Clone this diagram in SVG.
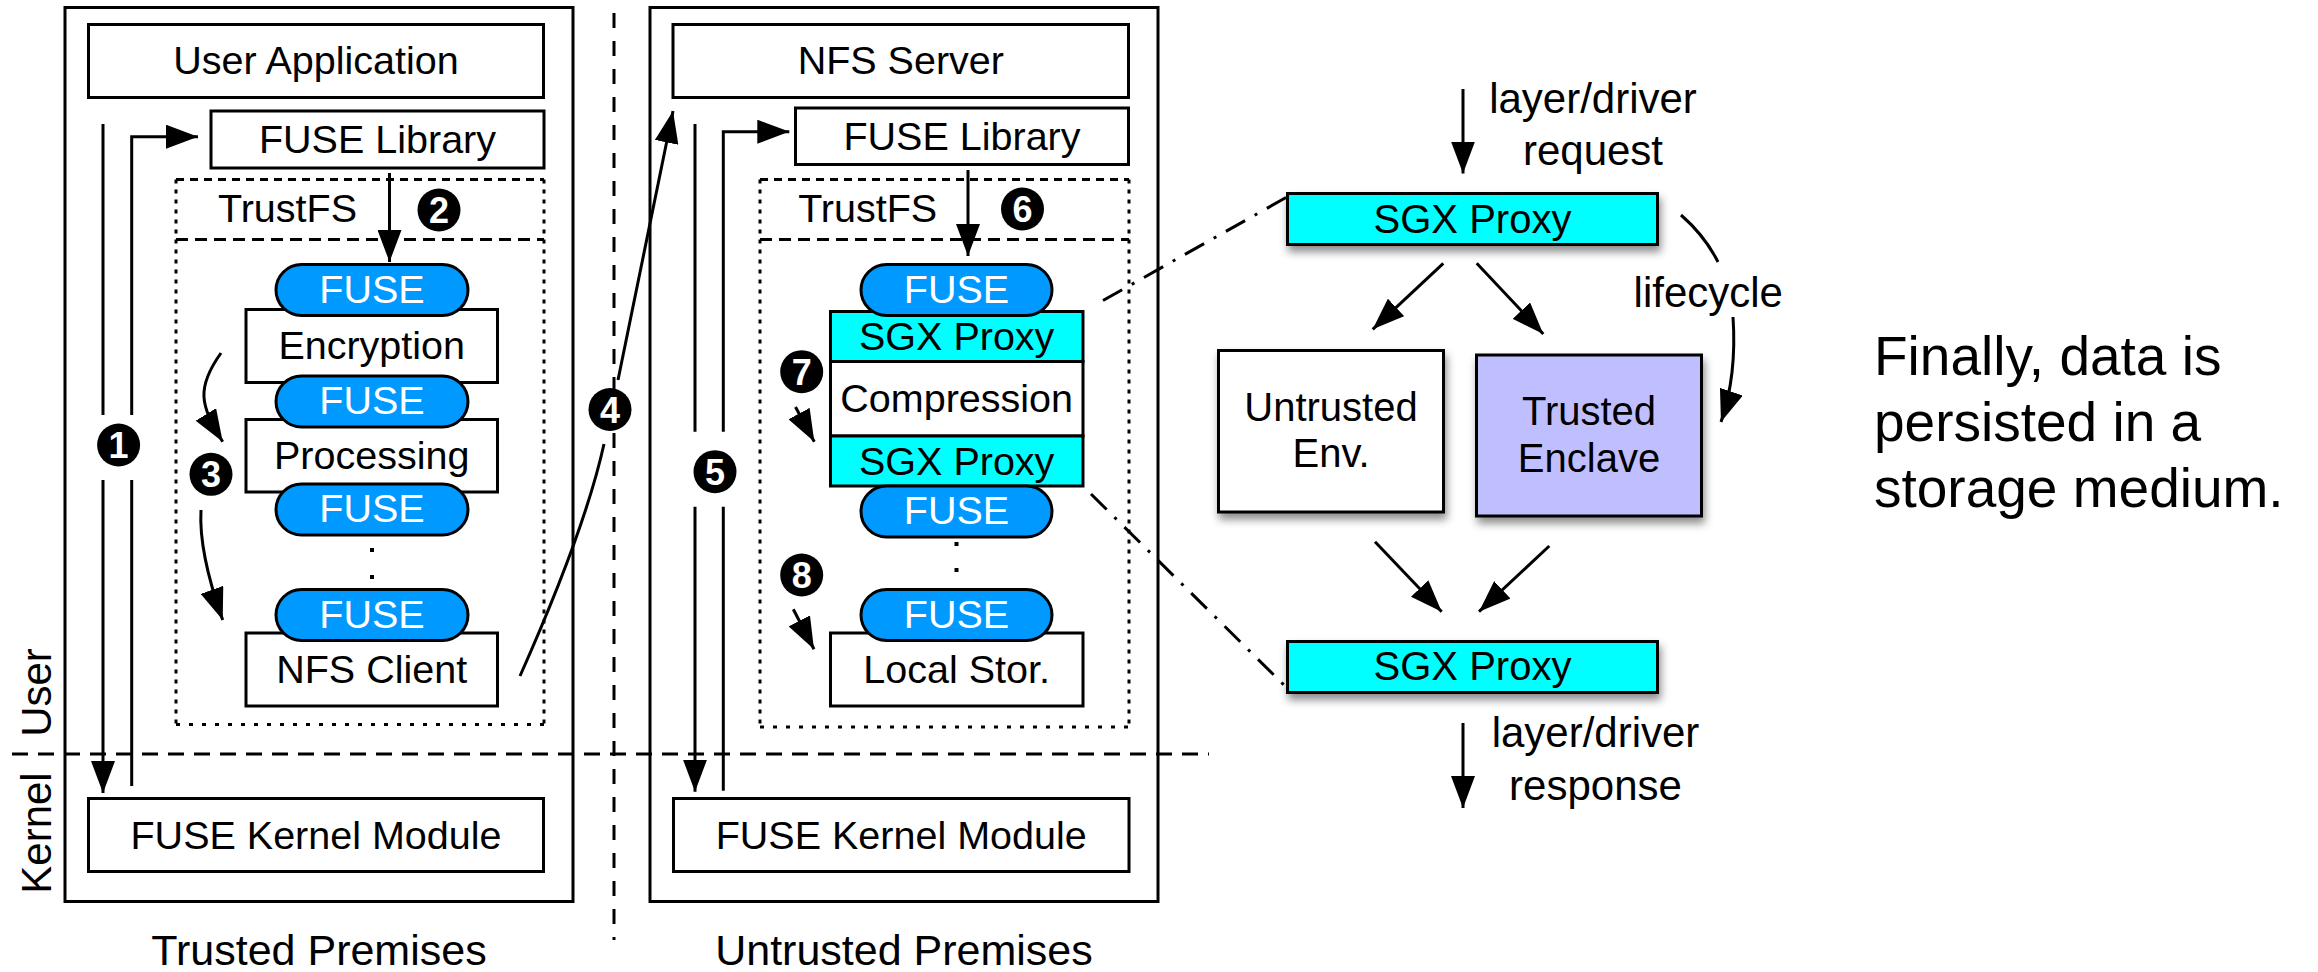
<svg xmlns="http://www.w3.org/2000/svg" width="2318" height="972" viewBox="0 0 2318 972">
<style>
.box{fill:#fff;stroke:#000;stroke-width:3}
.pill{fill:#0099ff;stroke:#000;stroke-width:3}
.sgx{fill:#00ffff;stroke:#000;stroke-width:3}
.enc{fill:#bfbfff;stroke:#000;stroke-width:3}
.t{font-family:"Liberation Sans",Arial,Helvetica,sans-serif;font-size:39.5px;text-anchor:middle;fill:#000}
.w{fill:#fff}
.lbl{font-size:42px}
.big{font-size:43px}
.fin{font-family:"Liberation Sans",Arial,Helvetica,sans-serif;font-size:55px;fill:#000}
.ln{fill:none;stroke:#000;stroke-width:3}
.arr{fill:none;stroke:#000;stroke-width:3;marker-end:url(#ah)}
.dd{fill:none;stroke:#000;stroke-width:3;stroke-dasharray:22 11 3 11}
.num circle{fill:#000}
.num text{font-family:"Liberation Sans",Arial,sans-serif;font-weight:bold;font-size:36px;fill:#fff;text-anchor:middle}
.dash{fill:none;stroke:#000;stroke-width:3}
</style>
<defs>
<marker id="ah" viewBox="0 0 32 24" refX="32" refY="12" markerWidth="32" markerHeight="24" markerUnits="userSpaceOnUse" orient="auto"><path d="M0,0 L32,12 L0,24 Z" fill="#000"/></marker>
<filter id="sh" x="-10%" y="-20%" width="130%" height="170%"><feDropShadow dx="2" dy="6" stdDeviation="4" flood-color="#000" flood-opacity="0.45"/></filter>
</defs>
<rect width="2318" height="972" fill="#fff"/>

<!-- outer premises -->
<g id="trusted-premises">
<rect class="box" x="65" y="7.5" width="508" height="894"/>
<text class="t big" x="319" y="965">Trusted Premises</text>
</g>
<g id="untrusted-premises">
<rect class="box" x="650" y="7.5" width="508" height="894"/>
<text class="t big" x="904" y="965">Untrusted Premises</text>
</g>

<!-- separators -->
<g id="separators">
<path class="dash" d="M614,13 V940" stroke-dasharray="15 13"/>
<path class="dash" d="M12,754 H1209" stroke-dasharray="16 10"/>
<text class="t lbl" transform="translate(51,692.5) rotate(-90)">User</text>
<text class="t lbl" transform="translate(51,833) rotate(-90)">Kernel</text>
</g>

<!-- LEFT SIDE -->
<g id="user-application">
<rect class="box" x="88.5" y="24.5" width="455" height="73"/>
<text class="t" x="316" y="74">User Application</text>
</g>
<g id="fuse-library-left">
<rect class="box" x="211" y="111" width="333" height="57"/>
<text class="t" x="377.5" y="153">FUSE Library</text>
</g>
<g id="trustfs-left">
<path class="dash" d="M176,179.5 H544" stroke-dasharray="8 6"/>
<path class="dash" d="M176,239.5 H544" stroke-dasharray="12 7"/>
<path class="dash" d="M176,179.5 V724.5 M544,179.5 V724.5" stroke-dasharray="4 6"/>
<path class="dash" d="M176,724.5 H544" stroke-dasharray="4 9"/>
<text class="t" x="287.5" y="222">TrustFS</text>
</g>
<g id="encryption">
<rect class="box" x="246" y="309.5" width="251.5" height="73"/>
<text class="t" x="371.7" y="359">Encryption</text>
</g>
<g id="processing">
<rect class="box" x="246" y="419.5" width="251.5" height="72.5"/>
<text class="t" x="371.7" y="469">Processing</text>
</g>
<g id="nfs-client">
<rect class="box" x="246" y="633" width="251.5" height="73"/>
<text class="t" x="371.7" y="682.5">NFS Client</text>
</g>
<g id="fuse-left-1"><rect class="pill" x="276" y="264.5" width="192" height="51" rx="25.5"/><text class="t w" x="372" y="302.5">FUSE</text></g>
<g id="fuse-left-2"><rect class="pill" x="276" y="376" width="192" height="51" rx="25.5"/><text class="t w" x="372" y="414">FUSE</text></g>
<g id="fuse-left-3"><rect class="pill" x="276" y="484" width="192" height="51" rx="25.5"/><text class="t w" x="372" y="522">FUSE</text></g>
<g id="fuse-left-4"><rect class="pill" x="276" y="589.5" width="192" height="51" rx="25.5"/><text class="t w" x="372" y="627.5">FUSE</text></g>
<g id="dots-left"><rect x="370" y="548" width="4" height="4"/><rect x="370" y="575" width="4" height="4"/></g>
<g id="kernel-module-left">
<rect class="box" x="88.5" y="798.5" width="455" height="73"/>
<text class="t" x="316" y="848.5">FUSE Kernel Module</text>
</g>

<!-- RIGHT SIDE -->
<g id="nfs-server">
<rect class="box" x="673" y="24.5" width="455.5" height="73"/>
<text class="t" x="900.8" y="74">NFS Server</text>
</g>
<g id="fuse-library-right">
<rect class="box" x="795.5" y="108" width="333" height="56.5"/>
<text class="t" x="962" y="149.5">FUSE Library</text>
</g>
<g id="trustfs-right">
<path class="dash" d="M760,179.5 H1129" stroke-dasharray="8 6"/>
<path class="dash" d="M760,239.5 H1129" stroke-dasharray="12 7"/>
<path class="dash" d="M760,179.5 V727 M1129,179.5 V727" stroke-dasharray="4 6"/>
<path class="dash" d="M760,727 H1129" stroke-dasharray="4 9"/>
<text class="t" x="867.7" y="222">TrustFS</text>
</g>
<g id="sgx-proxy-1">
<rect class="sgx" x="830.5" y="311.5" width="252.5" height="50"/>
<text class="t" x="956.7" y="350">SGX Proxy</text>
</g>
<g id="compression">
<rect class="box" x="830.5" y="361.5" width="252.5" height="74.5"/>
<text class="t" x="956.7" y="412">Compression</text>
</g>
<g id="sgx-proxy-2">
<rect class="sgx" x="830.5" y="436" width="252.5" height="50"/>
<text class="t" x="956.7" y="474.5">SGX Proxy</text>
</g>
<g id="local-storage">
<rect class="box" x="830.5" y="633" width="252.5" height="73"/>
<text class="t" x="956.7" y="682.5">Local Stor.</text>
</g>
<g id="fuse-right-1"><rect class="pill" x="861" y="264.5" width="191" height="51" rx="25.5"/><text class="t w" x="956.5" y="302.5">FUSE</text></g>
<g id="fuse-right-2"><rect class="pill" x="861" y="486" width="191" height="51" rx="25.5"/><text class="t w" x="956.5" y="524">FUSE</text></g>
<g id="fuse-right-3"><rect class="pill" x="861" y="589.5" width="191" height="51" rx="25.5"/><text class="t w" x="956.5" y="627.5">FUSE</text></g>
<g id="dots-right"><rect x="954.5" y="542" width="4" height="4"/><rect x="954.5" y="568" width="4" height="4"/></g>
<g id="kernel-module-right">
<rect class="box" x="673.5" y="798.5" width="455.5" height="73"/>
<text class="t" x="901.2" y="848.5">FUSE Kernel Module</text>
</g>

<!-- SGX detail -->
<g id="sgx-proxy-top">
<rect class="sgx" x="1287.5" y="193.5" width="370" height="51" filter="url(#sh)"/>
<text class="t" x="1472.5" y="232.5" style="font-size:40px">SGX Proxy</text>
</g>
<g id="untrusted-env">
<rect class="box" x="1218.5" y="350.5" width="225" height="161.5" filter="url(#sh)"/>
<text class="t" x="1331" y="420.7" style="font-size:40px">Untrusted</text>
<text class="t" x="1331" y="467.3" style="font-size:40px">Env.</text>
</g>
<g id="trusted-enclave">
<rect class="enc" x="1476.5" y="355" width="225" height="161" filter="url(#sh)"/>
<text class="t" x="1589" y="425" style="font-size:40px">Trusted</text>
<text class="t" x="1589" y="471.7" style="font-size:40px">Enclave</text>
</g>
<g id="sgx-proxy-bottom">
<rect class="sgx" x="1287.5" y="641.5" width="370" height="51" filter="url(#sh)"/>
<text class="t" x="1472.5" y="680" style="font-size:40px">SGX Proxy</text>
</g>
<g id="labels">
<text class="t lbl" x="1593" y="112.5">layer/driver</text>
<text class="t lbl" x="1593" y="165">request</text>
<text class="t lbl" x="1708.3" y="306.7">lifecycle</text>
<text class="t lbl" x="1595.5" y="746.5">layer/driver</text>
<text class="t lbl" x="1595.5" y="800">response</text>
</g>
<g id="note">
<text class="fin" x="1874" y="375">Finally, data is</text>
<text class="fin" x="1874" y="441">persisted in a</text>
<text class="fin" x="1874" y="507">storage medium.</text>
</g>

<!-- connectors -->
<g id="connectors">
<path class="ln" d="M103,124 V415"/>
<path class="arr" d="M103,480 V793"/>
<path class="ln" d="M131.7,786 V480"/>
<path class="arr" d="M131.7,415 V136.7 H198"/>
<path class="arr" d="M389.5,173 V262"/>
<path class="arr" d="M221,353 C196,388 200,405 222.7,441.7"/>
<path class="arr" d="M201,510 C199,545 212,590 222.7,620"/>
<path class="ln" d="M520,676 Q585,530 604,444"/>
<path class="arr" d="M618,380 L673,111"/>
<path class="ln" d="M695,124 V431.7"/>
<path class="arr" d="M695,506.7 V791.7"/>
<path class="ln" d="M723.3,790.7 V506.7"/>
<path class="arr" d="M723.3,431.7 V131.7 H789.3"/>
<path class="arr" d="M968,170 V256"/>
<path class="arr" d="M795.5,407 L814.3,441.7"/>
<path class="arr" d="M793.3,609.3 L814,649.3"/>
<path class="dd" d="M1103,300.5 L1287,197"/>
<path class="dd" d="M1091,494 L1287,688"/>
<path class="arr" d="M1463,89 V173.5"/>
<path class="arr" d="M1443.3,263.3 L1372.7,329.3"/>
<path class="arr" d="M1476.7,263.3 L1543.3,334"/>
<path class="ln" d="M1681,215 Q1705,236 1718,262"/>
<path class="arr" d="M1733,317 Q1737,375 1721,422"/>
<path class="arr" d="M1375,541.7 L1441.7,611.7"/>
<path class="arr" d="M1549.3,546 L1479,611.7"/>
<path class="arr" d="M1463,723 V808"/>
</g>

<!-- step numbers -->
<g id="step-1" class="num"><circle cx="118.6" cy="445" r="21.5"/><text x="118.6" y="458">1</text></g>
<g id="step-2" class="num"><circle cx="439" cy="210" r="21.5"/><text x="439" y="223">2</text></g>
<g id="step-3" class="num"><circle cx="211" cy="474.3" r="21.5"/><text x="211" y="487.3">3</text></g>
<g id="step-4" class="num"><circle cx="610" cy="409.5" r="21.5"/><text x="610" y="422.5">4</text></g>
<g id="step-5" class="num"><circle cx="715" cy="471.7" r="21.5"/><text x="715" y="484.7">5</text></g>
<g id="step-6" class="num"><circle cx="1022.5" cy="209" r="21.5"/><text x="1022.5" y="222">6</text></g>
<g id="step-7" class="num"><circle cx="801.7" cy="371.7" r="21.5"/><text x="801.7" y="384.7">7</text></g>
<g id="step-8" class="num"><circle cx="801.7" cy="575" r="21.5"/><text x="801.7" y="588">8</text></g>
</svg>
